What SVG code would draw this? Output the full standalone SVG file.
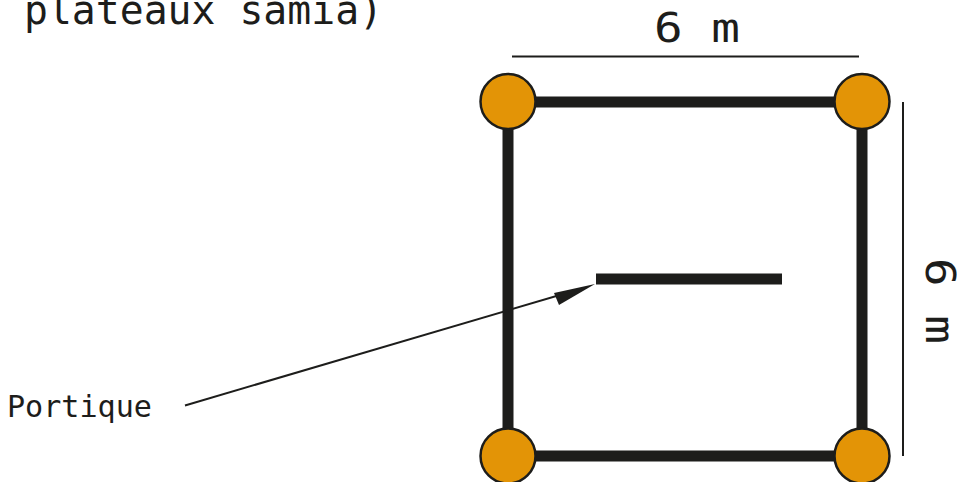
<svg xmlns="http://www.w3.org/2000/svg" width="957" height="482" viewBox="0 0 957 482">
<defs>
<style>
.t{font-family:"DejaVu Sans Mono","Liberation Mono",monospace;fill:#1d1d1b}
.beam{stroke:#1d1d1b;stroke-width:11;fill:none}
.dim{stroke:#1d1d1b;stroke-width:2;fill:none}
.col{fill:#e39406;stroke:#1d1d1b;stroke-width:2.5}
</style>
</defs>
<g id="title"><text class="t" x="24" y="24" font-size="41" textLength="359" lengthAdjust="spacingAndGlyphs">plateaux samia)</text></g>
<g id="connectors">
<path class="beam" d="M508 102H862M508 456H862M508 102V456M862 102V456"/>
<path class="beam" d="M596 279H782"/>
<path class="dim" d="M512 56.500H859M903 102V456"/>
<path class="dim" d="M185 405.500L570 292"/>
<polygon fill="#1d1d1b" points="595,284 554,293 559,305"/>
</g>
<g id="node-tl"><circle class="col" cx="508" cy="101.500" r="27.500"/></g>
<g id="node-tr"><circle class="col" cx="862" cy="101.500" r="27.500"/></g>
<g id="node-bl"><circle class="col" cx="508" cy="456" r="27.500"/></g>
<g id="node-br"><circle class="col" cx="862" cy="456" r="27.500"/></g>
<g id="label-top"><text class="t" x="654" y="42" font-size="41" textLength="86" lengthAdjust="spacingAndGlyphs">6 m</text></g>
<g id="label-right"><text class="t" transform="translate(926 258) rotate(90)" font-size="41" textLength="86" lengthAdjust="spacingAndGlyphs">6 m</text></g>
<g id="label-portique"><text class="t" x="7" y="417" font-size="30" textLength="145" lengthAdjust="spacingAndGlyphs">Portique</text></g>
</svg>
